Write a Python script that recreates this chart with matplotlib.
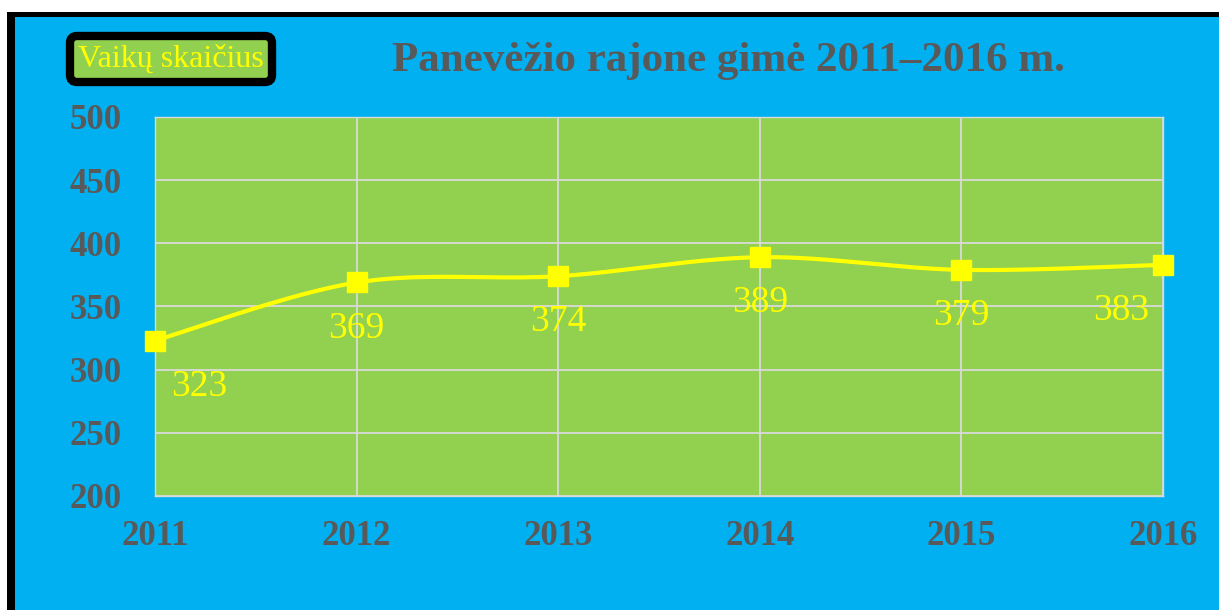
import numpy as np
import matplotlib
matplotlib.use("Agg")
import matplotlib.pyplot as plt
from matplotlib.patches import Rectangle

years = [2011, 2012, 2013, 2014, 2015, 2016]
values = [323, 369, 374, 389, 379, 383]
series_name = "Vaikų skaičius"
title = "Panevėžio rajone gimė 2011–2016 m."
y_ticks = [200, 250, 300, 350, 400, 450, 500]

BLUE = "#00B0F0"
GREEN = "#92D050"
YELLOW = "#FFFF00"
GRAY = "#595959"
GRID = "#D9D9D9"
SERIF = ["Liberation Serif", "DejaVu Serif"]

W, H = 1219, 610
fig = plt.figure(figsize=(W / 100, H / 100), dpi=100, facecolor="white")

# frame: black border on top/left, blue chart area
fig.patches.append(Rectangle((7 / W, 0), 1 - 7 / W, 1 - 12 / H, transform=fig.transFigure,
                             facecolor="black", edgecolor="none", zorder=-10))
fig.patches.append(Rectangle((15 / W, 0), 1 - 15 / W, 1 - 17 / H, transform=fig.transFigure,
                             facecolor=BLUE, edgecolor="none", zorder=-9))

ax = fig.add_axes([155 / W, 1 - 496 / H, (1163 - 155) / W, (496 - 117) / H])
ax.set_facecolor(GREEN)

# smoothed line (Catmull-Rom style Bezier like Excel's smoothing)
x = np.array(years, dtype=float)
y = np.array(values, dtype=float)
n = len(x)
px = np.concatenate([[x[0]], x, [x[-1]]])
py = np.concatenate([[y[0]], y, [y[-1]]])
xs, ys = [], []
t = np.linspace(0, 1, 40)
for i in range(n - 1):
    p0 = np.array([x[i], y[i]])
    p3 = np.array([x[i + 1], y[i + 1]])
    prev = np.array([px[i], py[i]])
    nxt = np.array([px[i + 3], py[i + 3]])
    c1 = p0 + (p3 - prev) / 6.0
    c2 = p3 - (nxt - p0) / 6.0
    b = ((1 - t) ** 3)[:, None] * p0 + (3 * (1 - t) ** 2 * t)[:, None] * c1 + \
        (3 * (1 - t) * t ** 2)[:, None] * c2 + (t ** 3)[:, None] * p3
    xs.extend(b[:, 0]); ys.extend(b[:, 1])

ax.plot(xs, ys, color=YELLOW, lw=3, zorder=3, clip_on=False, solid_capstyle="round",
        label=series_name)
ax.plot(years, values, linestyle="none", marker="s", markersize=14, color=YELLOW,
        zorder=4, clip_on=False)

for i, (xx, vv) in enumerate(zip(years, values)):
    dx = 0
    if i == 0:
        dx = 32
    elif i == n - 1:
        dx = -30
    ax.annotate(str(vv), (xx, vv), xytext=(dx, -33), textcoords="offset points",
                ha="center", va="center", color=YELLOW, fontsize=27, family=SERIF, zorder=5)

ax.set_xlim(years[0], years[-1])
ax.set_ylim(y_ticks[0], y_ticks[-1])
ax.set_xticks(years)
ax.set_yticks(y_ticks)
ax.grid(True, color=GRID, lw=1.3)
ax.set_axisbelow(True)
for s in ax.spines.values():
    s.set_color(GRID)
    s.set_linewidth(1.0)
ax.tick_params(length=0)
ax.tick_params(axis="y", pad=24)
ax.tick_params(axis="x", pad=17)
for lab in ax.get_xticklabels() + ax.get_yticklabels():
    lab.set_fontfamily(SERIF)
    lab.set_fontweight("bold")
    lab.set_fontsize(25)
    lab.set_color(GRAY)

fig.text(728 / W, 1 - 61 / H, title, ha="center", va="center", fontsize=31,
         fontweight="bold", color=GRAY, family=SERIF)

leg = ax.legend(loc="center", bbox_to_anchor=(171 / W, 1 - 59 / H), bbox_transform=fig.transFigure,
                handlelength=0, handletextpad=0, fancybox=True, framealpha=1,
                borderpad=0.25, prop={"family": SERIF, "size": 23})
for h in leg.legend_handles:
    h.set_visible(False)
leg.get_texts()[0].set_color(YELLOW)
fr = leg.get_frame()
fr.set_facecolor(GREEN)
fr.set_edgecolor("black")
fr.set_linewidth(6)

fig.savefig("out.png", dpi=100, facecolor="white")
